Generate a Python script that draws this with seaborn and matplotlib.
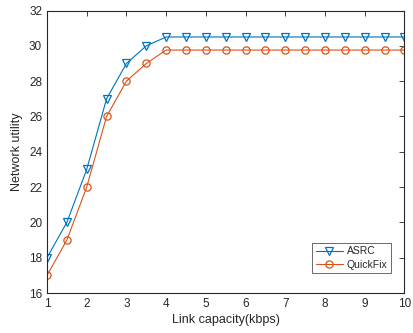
import numpy as np
import pandas as pd
import matplotlib
matplotlib.use("Agg")
import matplotlib.pyplot as plt
import seaborn as sns

# data
capacity = [1, 1.5, 2, 2.5, 3, 3.5, 4, 4.5, 5, 5.5, 6, 6.5, 7, 7.5, 8, 8.5, 9, 9.5, 10]
asrc = [18, 20, 23, 27, 29, 30, 30.5, 30.5, 30.5, 30.5, 30.5, 30.5, 30.5, 30.5, 30.5, 30.5, 30.5, 30.5, 30.5]
quickfix = [17, 19, 22, 26, 28, 29, 29.76, 29.76, 29.76, 29.76, 29.76, 29.76, 29.76, 29.76, 29.76, 29.76, 29.76, 29.76, 29.76]
labels = ["ASRC", "QuickFix"]

df = pd.DataFrame({
    "capacity": capacity * 2,
    "utility": asrc + quickfix,
    "method": [labels[0]] * len(capacity) + [labels[1]] * len(capacity),
})

sns.set_style("white")
plt.rcParams["font.family"] = ["Liberation Sans", "DejaVu Sans"]

fig = plt.figure(figsize=(4.14, 3.33), dpi=100)
ax = fig.add_axes([47 / 414, 1 - 293 / 333, (404.5 - 47) / 414, (293 - 10.5) / 333])

palette = {"ASRC": "#0072BD", "QuickFix": "#D95319"}
sns.lineplot(data=df, x="capacity", y="utility", hue="method", style="method",
             markers={"ASRC": "v", "QuickFix": "o"}, dashes=False, palette=palette,
             markersize=6, linewidth=0.8, legend=False, ax=ax)
lines = ax.get_lines()
for line, lab in zip(lines, labels):
    line.set_markeredgecolor(palette[lab])
    line.set_markerfacecolor("none")
    line.set_markeredgewidth(0.9)
lines[1].set_markersize(5.2)

ax.set_xlim(1, 10)
ax.set_ylim(16, 32)
ax.set_xticks(range(1, 11))
ax.set_yticks(range(16, 33, 2))
ax.set_xlabel("Link capacity(kbps)", fontsize=9, color="#262626", labelpad=3)
ax.set_ylabel("Network utility", fontsize=9, color="#262626", labelpad=4)
ax.tick_params(direction="in", top=True, right=True, length=3.5, width=0.6,
               labelsize=8.5, colors="#262626")
for s in ax.spines.values():
    s.set_linewidth(0.8)
    s.set_color("#262626")

leg = ax.legend(lines[:2], labels, loc="lower right", fontsize=7.5, frameon=True,
                fancybox=False, edgecolor="#262626", handlelength=2.6,
                borderpad=0.35, labelspacing=0.3, handletextpad=0.4,
                borderaxespad=0, bbox_to_anchor=(0.963, 0.07))
leg.get_frame().set_linewidth(0.6)

fig.savefig("out.png", dpi=100)
